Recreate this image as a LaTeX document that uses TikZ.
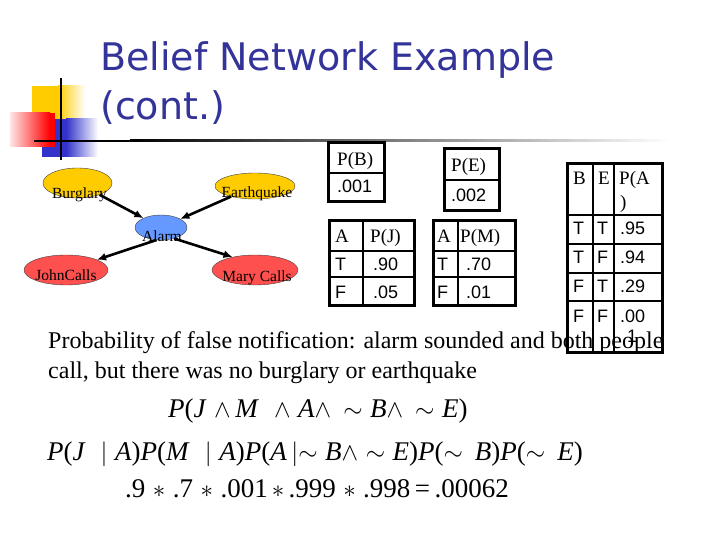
\documentclass[tikz,border=0pt]{standalone}
\usepackage{fontspec}
\setmainfont{Liberation Serif}
\newfontfamily\titlefont{DejaVu Sans}
\newfontfamily\arialfont{Liberation Sans}
\usetikzlibrary{shapes.geometric,arrows.meta}
\definecolor{titleblue}{RGB}{51,51,153}
\definecolor{causeyellow}{RGB}{255,204,0}
\definecolor{alarmblue}{RGB}{102,153,255}
\definecolor{callred}{RGB}{255,80,80}
\definecolor{decoblue}{RGB}{51,51,204}
\definecolor{decored}{RGB}{255,0,0}

\begin{document}
\begin{tikzpicture}[
                x=1pt, y=-1pt,
                net/.style={ellipse, draw=black!75, thin, inner sep=0pt},
                netlabel/.style={font=\fontsize{15.5}{16}\selectfont, anchor=base, inner sep=0pt},
                link/.style={-{Latex[length=9pt,width=8pt]}, line width=2.6pt},
                frame/.style={line width=3pt},
                rule/.style={line width=1.5pt},
                head/.style={font=\fontsize{19}{20}\selectfont, anchor=base west, inner sep=0pt},
                val/.style={font=\arialfont\fontsize{18}{20}\selectfont, anchor=base west, inner sep=0pt},
                body/.style={font=\fontsize{24}{26}\selectfont, anchor=base west, inner sep=0pt},
                formula/.style={font=\fontsize{27}{29}\selectfont, anchor=base west, inner sep=0pt},
                title/.style={font=\titlefont\fontsize{38}{40}\selectfont, text=titleblue, anchor=base west, inner sep=0pt}
            ]
            \useasboundingbox (0,0) rectangle (720,540);
            \fill[white] (0,0) rectangle (720,540);

            %decoration
            \fill[causeyellow] (32,86) rectangle (58,120);
            \shade[left color=causeyellow, right color=white] (58,86) rectangle (85,120);
            \fill[decoblue] (42,119) rectangle (66,157);
            \shade[left color=decoblue, right color=white] (66,119) rectangle (98,157);
            \shade[left color=decored!10, right color=decored] (10,113) rectangle (50,147);
            \fill[decored] (50,113) rectangle (55,147);
            \fill[black] (34,140) rectangle (130,142);
            \shade[left color=black, right color=white] (130,140) rectangle (670,142);
            \draw[line width=2pt] (61,78) -- (61,160);

            %title
            \node[title] (title1) at (100,71)  {Belief Network Example};
            \node[title] (title2) at (100,120) {(cont.)};

            %network
            \node[net, fill=causeyellow, minimum width=69pt, minimum height=30pt] (burglary)   at (77.5,183) {};
            \node[net, fill=causeyellow, minimum width=80pt, minimum height=26pt] (earthquake) at (255,186)  {};
            \node[net, fill=alarmblue,   minimum width=52pt, minimum height=25pt] (alarm)      at (161,227.5) {};
            \node[net, fill=callred,     minimum width=84pt, minimum height=30pt] (johncalls)  at (66,270)   {};
            \node[net, fill=callred,     minimum width=86pt, minimum height=30pt] (marycalls)  at (255,270)  {};

            \node[netlabel] (burglary-t)   at (79.5,199) {Burglary};
            \node[netlabel] (earthquake-t) at (257,197)  {Earthquake};
            \node[netlabel] (alarm-t)      at (162,241)  {Alarm};
            \node[netlabel] (johncalls-t)  at (66,280)   {JohnCalls};
            \node[netlabel] (marycalls-t)  at (257,281)  {Mary Calls};

            \draw[link] (burglary)   -- (alarm);
            \draw[link] (earthquake) -- (alarm);
            \draw[link] (alarm.250)  -- (johncalls);
            \draw[link] (alarm.-40)  -- (marycalls.150);

            %table P(B)
            \draw[frame] (328,143) rectangle (384,202);
            \draw[rule]  (328,173) -- (384,173);
            \node[head] (pb-h) at (337,166) {P(B)};
            \node[val]  (pb-v) at (337,193) {.001};

            %table P(E)
            \draw[frame] (444,149) rectangle (499,211);
            \draw[rule]  (444,180) -- (499,180);
            \node[head] (pe-h) at (451,172) {P(E)};
            \node[val]  (pe-v) at (451,202) {.002};

            %table P(J)
            \draw[frame] (329,221) rectangle (414,305);
            \draw[rule]  (329,251) -- (414,251) (329,277) -- (414,277) (363,221) -- (363,305);
            \node[head] (pj-a)  at (335,242) {A};
            \node[head] (pj-h)  at (370,242) {P(J)};
            \node[val]  (pj-t)  at (335,270) {T};
            \node[val]  (pj-tv) at (373,270) {.90};
            \node[val]  (pj-f)  at (335,298) {F};
            \node[val]  (pj-fv) at (373,298) {.05};

            %table P(M)
            \draw[frame] (433,221) rectangle (515,305);
            \draw[rule]  (433,251) -- (515,251) (433,277) -- (515,277) (458,221) -- (458,305);
            \node[head] (pm-a)  at (437,242) {A};
            \node[head] (pm-h)  at (460,242) {P(M)};
            \node[val]  (pm-t)  at (437,270) {T};
            \node[val]  (pm-tv) at (466,270) {.70};
            \node[val]  (pm-f)  at (437,298) {F};
            \node[val]  (pm-fv) at (466,298) {.01};

            %table P(A)
            \draw[frame] (567,164) rectangle (662,352);
            \draw[rule]  (567,215) -- (662,215) (567,244) -- (662,244)
                         (567,273) -- (662,273) (567,301) -- (662,301)
                         (593,164) -- (593,352) (614,164) -- (614,352);
            \node[head] (pa-b)  at (573,185) {B};
            \node[head] (pa-e)  at (598,185) {E};
            \node[head] (pa-h)  at (619,185) {P(A};
            \node[head] (pa-h2) at (620,208) {)};
            \node[val]  (pa-1b) at (573,234) {T};
            \node[val]  (pa-1e) at (597,234) {T};
            \node[val]  (pa-1v) at (620,234) {.95};
            \node[val]  (pa-2b) at (573,263) {T};
            \node[val]  (pa-2e) at (597,263) {F};
            \node[val]  (pa-2v) at (620,263) {.94};
            \node[val]  (pa-3b) at (573,292) {F};
            \node[val]  (pa-3e) at (597,292) {T};
            \node[val]  (pa-3v) at (620,292) {.29};
            \node[val]  (pa-4b) at (573,322) {F};
            \node[val]  (pa-4e) at (597,322) {F};
            \node[val]  (pa-4v) at (620,322) {.00};
            \node[val]  (pa-4w) at (627,342) {1};

            %text
            \node[body] (line1) at (48,348) {Probability of false notification: alarm sounded and both people};
            \node[body] (line2) at (48,378) {call, but there was no burglary or earthquake};

            %formulas
            \node[formula] (joint) at (168,417)
                {\textit{P}(\textit{J}\;$\wedge$\,\textit{M}\;\;$\wedge$\;\textit{A}$\wedge$\;\,$\sim$\;\textit{B}$\wedge$\;\,$\sim$\;\textit{E})};
            \node[formula] (chain) at (47,460)
                {\textit{P}(\textit{J}\;\;$|$\;\textit{A})\textit{P}(\textit{M}\;\;$|$\;\textit{A})\textit{P}(\textit{A}\,$|$$\sim$\;\textit{B}$\wedge$\;$\sim$\;\textit{E})\textit{P}($\sim$\;\,\textit{B})\textit{P}($\sim$\;\,\textit{E})};
            \node[formula] (value) at (125,497)
                {.9\;$\ast$\;.7\;$\ast$\;.001$\,\ast\,$.999\;$\ast$\;.998\,=\,.00062};

\end{tikzpicture}
\end{document}
